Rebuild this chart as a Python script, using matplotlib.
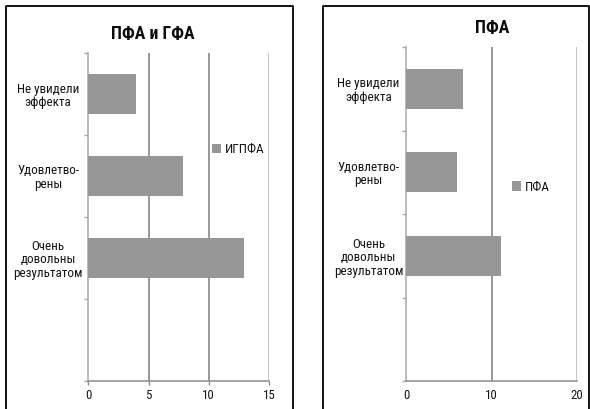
import matplotlib
matplotlib.use("Agg")
import matplotlib.pyplot as plt
from matplotlib.lines import Line2D
from matplotlib.patches import Patch

# Survey answers, bottom row first (the lowest row is left blank)
categories = ["", "Очень\nдовольны\nрезультатом", "Удовлетво-\nрены", "Не увидели\nэффекта"]
igpfa_values = [0, 12.9, 7.9, 4.0]
pfa_values = [0, 11.1, 5.9, 6.7]
left_ticks = [0, 5, 10, 15]
right_ticks = [0, 10, 20]
left_title = "ПФА и ГФА"
right_title = "ПФА"
left_series = "ИГПФА"
right_series = "ПФА"

W, H = 590, 409
FONT = ["Roboto Condensed", "Open Sans Condensed", "Liberation Sans Narrow", "DejaVu Sans"]
plt.rcParams["font.family"] = FONT
plt.rcParams["font.stretch"] = "condensed"

BAR = "#979797"
GRID = "#7c7c7c"
EDGE_LIGHT = "#b4b4b4"
SPINE = "#a8a8a8"
AXIS = "#8c8c8c"
TEXT = "#141414"

fig = plt.figure(figsize=(W / 100, H / 100), dpi=100)


def px_rect(x0, x1, ytop, ybot):
    return [x0 / W, 1 - ybot / H, (x1 - x0) / W, (ybot - ytop) / H]


def panel(rect, values, ticks, title, title_xy, series, legend_xy, xticks_marks, label_pad):
    ax = fig.add_axes(rect)
    pos = list(range(len(categories)))
    ax.barh(pos, values, height=0.48, color=BAR, zorder=3)
    ax.set_xlim(ticks[0], ticks[-1])
    ax.set_ylim(-0.5, len(categories) - 0.5)
    ax.set_xticks(ticks)
    ax.set_xticklabels([str(t) for t in ticks])
    ax.set_yticks(pos)
    labels = ax.set_yticklabels(categories, fontsize=9.4, multialignment="center",
                                linespacing=1.05, color=TEXT)
    for lab in labels:
        lab.set_horizontalalignment("center")
    ax.set_yticks([p - 0.5 for p in pos] + [len(categories) - 0.5], minor=True)
    ax.tick_params(axis="y", which="major", length=0, pad=label_pad)
    ax.tick_params(axis="y", which="minor", length=3, width=1, color=SPINE)
    ax.tick_params(axis="x", length=3 if xticks_marks else 0, width=1, color=AXIS,
                   labelsize=9.3, pad=3.0 if xticks_marks else 5.5, labelcolor=TEXT)
    for t in ticks[1:-1]:
        ax.axvline(t, color=GRID, lw=1.1, zorder=1)
    ax.axvline(ticks[-1], color=EDGE_LIGHT, lw=1.1, zorder=1)
    for s in ("top", "right"):
        ax.spines[s].set_visible(False)
    ax.spines["left"].set_color(SPINE)
    ax.spines["left"].set_linewidth(1.1)
    ax.spines["bottom"].set_color(AXIS)
    ax.spines["bottom"].set_linewidth(1.1)
    ax.set_facecolor("none")

    fig.text(title_xy[0] / W, 1 - title_xy[1] / H, title, ha="center", va="center",
             fontsize=12.8, fontweight="bold", color="#0d0d0d")
    ax.legend(handles=[Patch(facecolor=BAR, edgecolor="none", label=series)],
              loc="center left", bbox_to_anchor=(legend_xy[0] / W, 1 - legend_xy[1] / H),
              bbox_transform=fig.transFigure, frameon=False, borderpad=0,
              borderaxespad=0, handlelength=0.7, handleheight=0.7,
              handletextpad=0.25, fontsize=9.5, labelcolor=TEXT)
    return ax


# label_pad (pt) puts the centre of each category label left of the axis
panel(px_rect(88.3, 269, 53, 381), igpfa_values, left_ticks, left_title, (153, 34),
      left_series, (212, 149.5), True, 29.0)
panel(px_rect(406.3, 577, 47, 381), pfa_values, right_ticks, right_title, (492, 27.5),
      right_series, (512, 187), False, 27.2)

# Frames around the two chart areas (they run past the lower edge)
for x0, x1 in ((5.5, 292.5), (323.3, 589.0)):
    fig.add_artist(Line2D([x0 / W, x0 / W, x1 / W, x1 / W],
                          [-0.05, 1 - 6 / H, 1 - 6 / H, -0.05],
                          transform=fig.transFigure, color="black", lw=1.3))

fig.savefig("out.png", dpi=100)
